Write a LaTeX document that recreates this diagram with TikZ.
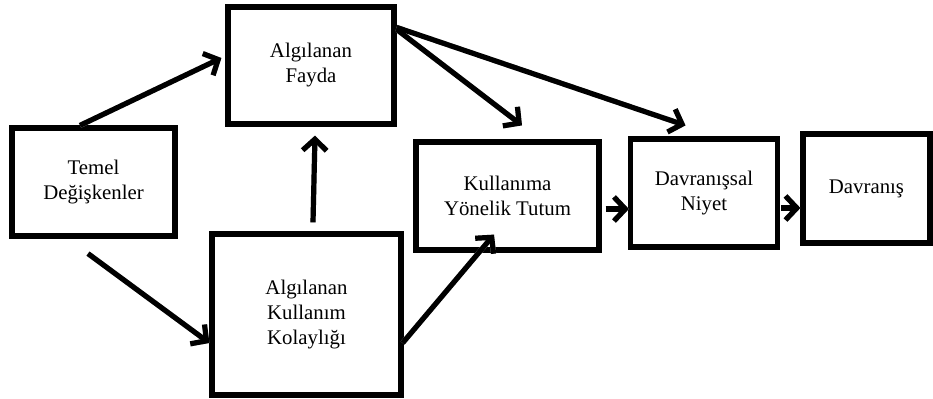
\documentclass[tikz,border=0pt]{standalone}
\usepackage{fontspec}
\setmainfont{Liberation Serif}
\usetikzlibrary{arrows.meta,calc}
\begin{document}
\begin{tikzpicture}[x=0.75pt,y=-0.75pt,
  box/.style 2 args={draw=black,line width=3.9pt,minimum width={#1*0.75pt},minimum height={#2*0.75pt},
    inner sep=0pt,align=center,font=\fontsize{15.6pt}{18.75pt}\selectfont},
  arr/.style={line width=3.9pt,-{Straight Barb[length=8.5pt,width=18pt]}},
  shd/.style={line width=3.9pt,draw=black!25,-{Straight Barb[length=8.5pt,width=18pt]}}]
\useasboundingbox (0,0) rectangle (933,399);
\node[box={163}{108}] (temel) at (93.5,182) {Temel\\Değişkenler};
\node[box={166}{117}] (fayda) at (311,65.5) {Algılanan\\Fayda};
\node[box={189}{161}] (akk) at (306.5,314.5) {Algılanan\\Kullanım\\Kolaylığı};
\node[box={183}{108}] (kull) at (507.5,196) {Kullanıma\\Yönelik Tutum};
\node[box={147}{108}] (dn) at (704,193) {Davranışsal\\Niyet};
\node[box={127}{109}] (dav) at (866.5,188.5) {Davranış};
% shadows
\begin{scope}[shift={(1,2)}]
\draw[shd] ($(temel.north)+(-13.5,0)$) -- ($(fayda.west)+(-4,-7.5)$);
\draw[shd] ($(temel.south)+(-5.5,15)$) -- ($(akk.west)+(0,28.5)$);
\draw[shd] ($(akk.north)+(6.5,-9)$) -- ($(fayda.south)+(4,9)$);
\draw[shd] ($(fayda.north east)+(0,25)$) -- ($(kull.north)+(14.5,-14)$);
\draw[shd] ($(fayda.north east)+(0,23)$) -- ($(dn.north)+(-18.5,-11)$);
\draw[shd] ($(akk.east)+(-1,28.5)$) -- ($(kull.south)+(-13.5,-18)$);
\draw[shd] ($(kull.east)+(4,13)$) -- ($(dn.west)+(1,16)$);
\draw[shd] ($(dn.east)+(1,15)$) -- ($(dav.west)+(0,19.5)$);
\end{scope}
% arrows
\draw[arr] ($(temel.north)+(-13.5,0)$) -- ($(fayda.west)+(-4,-7.5)$);
\draw[arr] ($(temel.south)+(-5.5,15)$) -- ($(akk.west)+(0,28.5)$);
\draw[arr] ($(akk.north)+(6.5,-9)$) -- ($(fayda.south)+(4,9)$);
\draw[arr] ($(fayda.north east)+(0,25)$) -- ($(kull.north)+(14.5,-14)$);
\draw[arr] ($(fayda.north east)+(0,23)$) -- ($(dn.north)+(-18.5,-11)$);
\draw[arr] ($(akk.east)+(-1,28.5)$) -- ($(kull.south)+(-13.5,-18)$);
\draw[arr] ($(kull.east)+(4,13)$) -- ($(dn.west)+(1,16)$);
\draw[arr] ($(dn.east)+(1,15)$) -- ($(dav.west)+(0,19.5)$);
\end{tikzpicture}
\end{document}
